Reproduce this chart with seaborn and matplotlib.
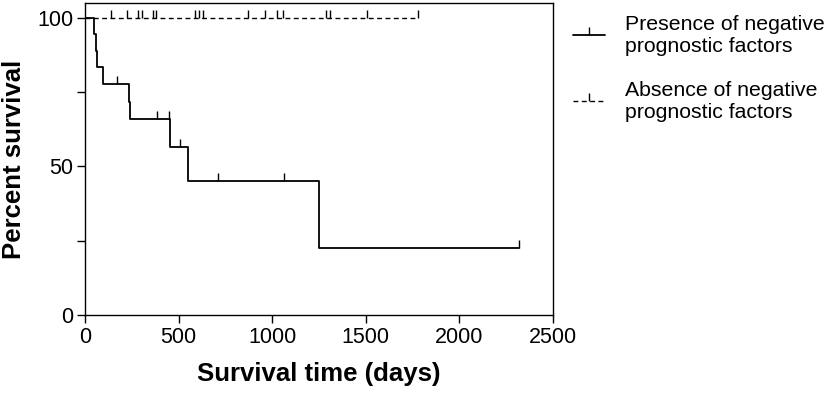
import matplotlib
matplotlib.use("Agg")
import matplotlib.pyplot as plt
from matplotlib.lines import Line2D
import matplotlib.ticker as mtick
import numpy as np
import pandas as pd
import seaborn as sns

# ---- Data ----
# Presence of negative prognostic factors: step times (days) and survival (%)
pres_time = [0, 48, 57, 66, 98, 237, 240, 454, 548, 1248, 2317]
pres_surv = [100, 94.4, 88.9, 83.3, 77.8, 71.8, 65.8, 56.4, 45.1, 22.6, 22.6]
pres_cens = [169, 386, 447, 507, 712, 1063, 2317]

# Absence of negative prognostic factors: no events, only censored cases
abs_time = [0, 1780]
abs_surv = [100, 100]
abs_cens = [137, 223, 285, 302, 361, 379, 587, 610, 632, 872, 961, 1024,
            1060, 1287, 1308, 1504, 1780]

lab_pres = "Presence of negative\nprognostic factors"
lab_abs = "Absence of negative\nprognostic factors"


def surv_at(times, surv, t):
    i = np.searchsorted(times, t, side="right") - 1
    return np.asarray(surv)[i]


curves = pd.concat([
    pd.DataFrame({"time": pres_time, "surv": pres_surv, "group": lab_pres}),
    pd.DataFrame({"time": abs_time, "surv": abs_surv, "group": lab_abs}),
])
cens = pd.concat([
    pd.DataFrame({"time": pres_cens,
                  "surv": surv_at(pres_time, pres_surv, pres_cens),
                  "group": lab_pres}),
    pd.DataFrame({"time": abs_cens,
                  "surv": surv_at(abs_time, abs_surv, abs_cens),
                  "group": lab_abs}),
])

sns.set_style("ticks")
plt.rcParams["font.family"] = ["Liberation Sans", "DejaVu Sans"]
plt.rcParams["text.color"] = "black"
plt.rcParams["axes.labelcolor"] = "black"

fig = plt.figure(figsize=(8.27, 3.94), dpi=100)
ax = fig.add_axes([0.1028, 0.2005, 0.5659, 0.7919])

lw = 1.3
dash = (0, (3.5, 2.5))
styles = {lab_pres: "-", lab_abs: dash}
for grp, sub in curves.groupby("group", sort=False):
    sns.lineplot(data=sub, x="time", y="surv", ax=ax, color="black",
                 linewidth=lw if grp == lab_pres else 1.0,
                 linestyle=styles[grp], drawstyle="steps-post",
                 estimator=None, sort=False, legend=False)

for grp, sub in cens.groupby("group", sort=False):
    ax.plot(sub["time"], sub["surv"], linestyle="none", marker=2,
            markersize=5.5, markeredgewidth=1.0, color="black")

ax.set_xlim(0, 2500)
ax.set_ylim(0, 105)
ax.set_xticks([0, 500, 1000, 1500, 2000, 2500])
ax.set_yticks([0, 50, 100])
ax.yaxis.set_minor_locator(mtick.FixedLocator([25, 75]))
ax.tick_params(axis="both", which="both", direction="out", length=5.5,
               width=1.0, labelsize=15.5, colors="black", pad=3)
for s in ax.spines.values():
    s.set_linewidth(1.0)
    s.set_color("black")

ax.set_xlabel("Survival time (days)", fontsize=18.5, fontweight="bold",
              labelpad=10)
ax.set_ylabel("Percent survival", fontsize=18.5, fontweight="bold",
              labelpad=8)

handles = [
    Line2D([], [], color="black", linewidth=lw, linestyle="-",
           marker=2, markersize=5.5, markeredgewidth=1.0),
    Line2D([], [], color="black", linewidth=1.0, linestyle=dash,
           marker=2, markersize=5.5, markeredgewidth=1.0),
]
fig.legend(handles, [lab_pres, lab_abs], loc="upper left",
           bbox_to_anchor=(0.6775, 0.995), frameon=False, fontsize=15.3,
           numpoints=1, handlelength=1.5, handletextpad=0.94,
           labelspacing=1.18, borderaxespad=0.2)

fig.savefig("out.png", dpi=100)
